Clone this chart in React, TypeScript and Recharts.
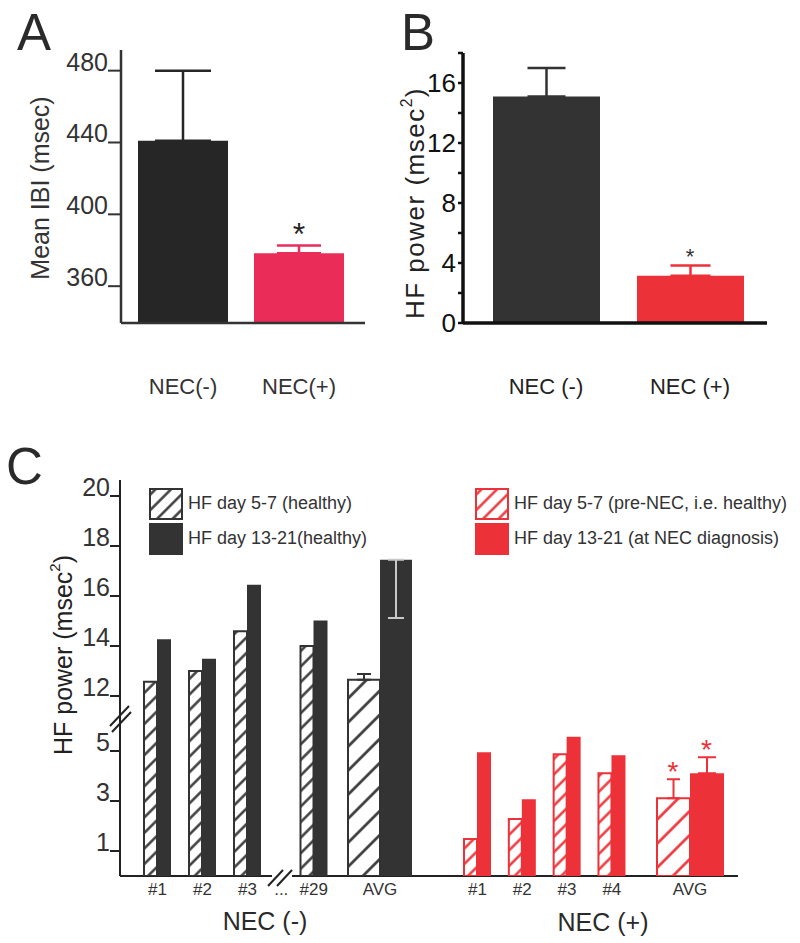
import React from "react";
import { BarChart, Bar, XAxis, YAxis, ErrorBar, ReferenceDot, Legend, Cell } from "recharts";

const FONT = '"Liberation Sans", Arial, Helvetica, sans-serif';
const TEXT = "#333";
const INK_A = "#262626";
const INK = "#333333";
const PINK = "#e92c58";
const RED = "#ec3238";

// Panel A: mean inter-beat interval
const ibiGroups = ["NEC(-)", "NEC(+)"];
const ibiMean = [441, 378.3];
const ibiErr = [39, 4.4];
const ibiTicks = [360, 400, 440, 480];

// Panel B: HF power
const hfGroups = ["NEC (-)", "NEC (+)"];
const hfMean = [15.1, 3.15];
const hfErr = [1.9, 0.68];
const hfTicks = [0, 2, 4, 6, 8, 10, 12, 14, 16, 18];

// Panel C: per-infant HF power, day 5-7 vs day 13-21
const negIds = ["#1", "#2", "#3"];
const negDay57 = [12.57, 13.0, 14.59];
const negDay1321 = [14.27, 13.49, 16.45];
const negLastIds = ["...", "#29"];
const negLastDay57 = [null, 14.0];
const negLastDay1321 = [null, 15.02];
const negAvgDay57 = 12.65;
const negAvgErr57 = 0.23;
const negAvgDay1321 = 17.45;
const negAvgErr1321 = 2.33; // drawn downward only
const posIds = ["#1", "#2", "#3", "#4"];
const posDay57 = [1.48, 2.28, 4.87, 4.11];
const posDay1321 = [4.95, 3.07, 5.57, 4.83];
const posAvgDay57 = 3.11;
const posAvgErr57 = 0.76;
const posAvgDay1321 = 4.11;
const posAvgErr1321 = 0.64;
const cTickValues = [1, 3, 5, 12, 14, 16, 18, 20];
const negLegend = ["HF day 5-7 (healthy)", "HF day 13-21(healthy)"];
const posLegend = ["HF day 5-7 (pre-NEC, i.e. healthy)", "HF day 13-21 (at NEC diagnosis)"];

// broken y axis: everything above the break is shifted down
const BREAK_AT = 6;
const BREAK_SHIFT = 4.8;
const C_MAX = 15.84;
const toAxis = (v: number | null) => (v == null ? null : v > BREAK_AT ? v - BREAK_SHIFT : v);
const cTicks = cTickValues.map((v) => toAxis(v) as number);

const ibiRows = ibiGroups.map((g, i) => ({
  g,
  v: ibiMean[i],
  eInk: i === 0 ? [0, ibiErr[i]] : null,
  eRed: i === 1 ? [0, ibiErr[i]] : null,
}));
const hfRows = hfGroups.map((g, i) => ({
  g,
  v: hfMean[i],
  eInk: i === 0 ? [0, hfErr[i]] : null,
  eRed: i === 1 ? [0, hfErr[i]] : null,
}));
const negRows = negIds.map((id, i) => ({ id, d57: toAxis(negDay57[i]), d1321: toAxis(negDay1321[i]) }));
const negLastRows = negLastIds.map((id, i) => ({ id, d57: toAxis(negLastDay57[i]), d1321: toAxis(negLastDay1321[i]) }));
const negAvgRows = [
  { id: "AVG", d57: toAxis(negAvgDay57), d1321: toAxis(negAvgDay1321), e57: [0, negAvgErr57], e1321: [negAvgErr1321, 0] },
];
const posRows = posIds.map((id, i) => ({ id, d57: toAxis(posDay57[i]), d1321: toAxis(posDay1321[i]) }));
const posAvgRows = [
  { id: "AVG", d57: toAxis(posAvgDay57), d1321: toAxis(posAvgDay1321), e57: [0, posAvgErr57], e1321: [0, posAvgErr1321] },
];

const BaselineTick = ({ x, y, payload, size, color, map }: any) => {
  const label = map ? map(payload.value) : payload.value;
  return (
    <text x={x} y={y} textAnchor="end" fontSize={size} fill={color} fontFamily={FONT}>
      {label}
    </text>
  );
};

const HfTick = ({ x, y, payload }: any) =>
  payload.value % 4 === 0 ? (
    <text x={x} y={y} dy={9} textAnchor="end" fontSize={26} fill="#111" fontFamily={FONT}>
      {payload.value}
    </text>
  ) : null;

const Star = ({ cx, cy, dx = 0, dy = 0, size, color }: any) => (
  <text x={cx + dx} y={cy + dy} textAnchor="middle" fontSize={size} fill={color} fontFamily={FONT}>
    *
  </text>
);

const axisTitle = (x: number, y: number, body: React.ReactNode, size: number, color: string, spacing = 0) => () => (
  <text
    transform={`translate(${x},${y}) rotate(-90)`}
    textAnchor="middle"
    dominantBaseline="central"
    fontSize={size}
    fill={color}
    fontFamily={FONT}
    letterSpacing={spacing}
  >
    {body}
  </text>
);

const msec2 = (
  <>
    HF power (msec
    <tspan baselineShift="super" fontSize="60%">2</tspan>)
  </>
);

const legendOrder = (item: any) => (item.dataKey === "d57" ? 0 : 1);

const LegendBlock = ({ payload, swatches }: any) => (
  <div style={{ fontFamily: FONT, fontSize: 18, color: TEXT }}>
    {(payload || []).map((e: any) => {
      const sw = swatches[e.dataKey];
      return (
        <div key={e.dataKey} style={{ display: "flex", alignItems: "center", height: 35, whiteSpace: "nowrap" }}>
          <svg width={34} height={32} style={{ display: "block" }}>
            <rect x={1} y={1} width={32} height={30} fill={sw.fill} stroke={sw.stroke} strokeWidth={2} />
          </svg>
          <span style={{ marginLeft: 5 }}>{e.value}</span>
        </div>
      );
    })}
  </div>
);

// shared vertical geometry of panel C
const C_TOP = 430;
const C_H = 513;
const C_MARGIN = { top: 50, bottom: 47 };

const CGroup = ({ rows, left, width, sizes, ink, hatch, names, errs, stars, legend }: any) => (
  <div style={{ position: "absolute", left, top: C_TOP }}>
    <BarChart
      width={width}
      height={C_H}
      data={rows}
      margin={{ ...C_MARGIN, left: 0, right: 0 }}
      barGap={0}
      barCategoryGap={0}
    >
      <XAxis
        dataKey="id"
        axisLine={false}
        tickLine={false}
        tickSize={0}
        tickMargin={7}
        interval={0}
        height={20}
        tick={{ fontSize: 17, fill: TEXT, fontFamily: FONT }}
      />
      <YAxis hide type="number" domain={[0, C_MAX]} allowDataOverflow />
      <Bar dataKey="d57" name={names[0]} barSize={sizes[0]} fill={`url(#${hatch})`} stroke={ink} strokeWidth={2} isAnimationActive={false}>
        {errs && <ErrorBar dataKey="e57" width={errs[0].w} stroke={errs[0].c} strokeWidth={2} isAnimationActive={false} />}
      </Bar>
      <Bar dataKey="d1321" name={names[1]} barSize={sizes[1]} fill={ink} isAnimationActive={false}>
        {errs && <ErrorBar dataKey="e1321" width={errs[1].w} stroke={errs[1].c} strokeWidth={2} isAnimationActive={false} />}
      </Bar>
      {stars &&
        stars.map((s: any, i: number) => (
          <ReferenceDot
            key={i}
            x="AVG"
            y={s.y}
            r={1}
            shape={(p: any) => <Star cx={p.cx} cy={p.cy} dx={s.dx} dy={2} size={28} color={ink} />}
          />
        ))}
      {legend && (
        <Legend
          layout="vertical"
          align="center"
          verticalAlign="middle"
          itemSorter={legendOrder}
          wrapperStyle={{ position: "absolute", left: legend.left, top: 56, width: 400 }}
          content={(p: any) => <LegendBlock payload={p.payload} swatches={legend.swatches} />}
        />
      )}
    </BarChart>
  </div>
);

export default function App() {
  return (
    <div style={{ position: "absolute", left: 0, top: 0, width: 800, height: 943, background: "#fff", fontFamily: FONT }}>
      <svg width={0} height={0} style={{ position: "absolute" }}>
        <defs>
          {[
            ["hatchInkS", INK, 11, 2.4],
            ["hatchInkL", INK, 17, 2.6],
            ["hatchRedS", RED, 11, 2.4],
            ["hatchRedL", RED, 17, 2.6],
          ].map(([id, c, s, w]: any) => (
            <pattern key={id} id={id} patternUnits="userSpaceOnUse" width={s} height={s} patternTransform="rotate(45)">
              <rect width={s} height={s} fill="#fff" />
              <line x1={s / 2} y1={0} x2={s / 2} y2={s} stroke={c} strokeWidth={w} />
            </pattern>
          ))}
        </defs>
      </svg>

      {/* A */}
      <div style={{ position: "absolute", left: 0, top: 0 }}>
        <BarChart width={400} height={420} data={ibiRows} margin={{ top: 50, right: 35, left: 61, bottom: 57 }}>
          <XAxis
            dataKey="g"
            height={40}
            padding={{ left: 4, right: 8 }}
            axisLine={{ stroke: TEXT, strokeWidth: 2.5 }}
            tickLine={false}
            tickSize={0}
            tickMargin={55}
            tick={{ fontSize: 22, fill: TEXT, fontFamily: FONT }}
          />
          <YAxis
            type="number"
            width={60}
            domain={[339.5, 491.5]}
            ticks={ibiTicks}
            allowDataOverflow
            axisLine={{ stroke: TEXT, strokeWidth: 2.5 }}
            tickLine={{ stroke: TEXT, strokeWidth: 2 }}
            tickSize={13}
            tickMargin={0}
            tick={<BaselineTick size={25} color={TEXT} />}
            label={{ content: axisTitle(40, 188, "Mean IBI (msec)", 25, TEXT) }}
          />
          <Bar dataKey="v" barSize={90} isAnimationActive={false}>
            {ibiRows.map((r, i) => (
              <Cell key={r.g} fill={i === 0 ? INK_A : PINK} />
            ))}
            <ErrorBar dataKey="eInk" width={28} stroke={INK_A} strokeWidth={2.5} isAnimationActive={false} />
            <ErrorBar dataKey="eRed" width={22} stroke={PINK} strokeWidth={2.5} isAnimationActive={false} />
          </Bar>
          <ReferenceDot
            x={ibiGroups[1]}
            y={ibiMean[1] + ibiErr[1]}
            r={1}
            shape={(p: any) => <Star cx={p.cx} cy={p.cy} dy={0} size={32} color={INK_A} />}
          />
        </BarChart>
      </div>

      {/* B */}
      <div style={{ position: "absolute", left: 380, top: 0 }}>
        <BarChart width={420} height={420} data={hfRows} margin={{ top: 53, right: 33, left: 33, bottom: 57 }}>
          <XAxis
            dataKey="g"
            height={40}
            padding={{ left: 11, right: 5 }}
            axisLine={{ stroke: "#111", strokeWidth: 3.5 }}
            tickLine={false}
            tickSize={0}
            tickMargin={55}
            tick={{ fontSize: 22, fill: "#222", fontFamily: FONT }}
          />
          <YAxis
            type="number"
            width={50}
            domain={[0, 18]}
            ticks={hfTicks}
            allowDataOverflow
            axisLine={{ stroke: "#111", strokeWidth: 3.5 }}
            tickLine={{ stroke: "#111", strokeWidth: 2.5 }}
            tickSize={5}
            tickMargin={2}
            tick={<HfTick />}
            label={{ content: axisTitle(35, 203, msec2, 26, "#222", 1.5) }}
          />
          <Bar dataKey="v" barSize={107} isAnimationActive={false}>
            {hfRows.map((r, i) => (
              <Cell key={r.g} fill={i === 0 ? INK : RED} />
            ))}
            <ErrorBar dataKey="eInk" width={19} stroke={INK} strokeWidth={2.5} isAnimationActive={false} />
            <ErrorBar dataKey="eRed" width={20} stroke={RED} strokeWidth={2.5} isAnimationActive={false} />
          </Bar>
          <ReferenceDot
            x={hfGroups[1]}
            y={hfMean[1] + hfErr[1]}
            r={1}
            shape={(p: any) => <Star cx={p.cx} cy={p.cy} dy={-2} size={22} color={INK} />}
          />
        </BarChart>
      </div>

      {/* C: axes */}
      <div style={{ position: "absolute", left: 0, top: C_TOP }}>
        <BarChart width={800} height={C_H} data={[{ g: "NEC (-)" }, { g: "NEC (+)" }]} margin={{ ...C_MARGIN, left: 60, right: 62 }}>
          <XAxis dataKey="g" height={20} tick={false} tickLine={false} axisLine={{ stroke: "#222", strokeWidth: 2 }} />
          <YAxis
            type="number"
            width={60}
            domain={[0, C_MAX]}
            ticks={cTicks}
            allowDataOverflow
            axisLine={{ stroke: "#222", strokeWidth: 2 }}
            tickLine={{ stroke: "#222", strokeWidth: 2 }}
            tickSize={10}
            tickMargin={0}
            tick={<BaselineTick size={25} color={TEXT} map={(t: number) => cTickValues[cTicks.indexOf(t)]} />}
            label={{ content: axisTitle(63, 225, msec2, 25, "#222") }}
          />
        </BarChart>
      </div>

      <CGroup
        rows={negRows}
        left={134.5}
        width={135}
        sizes={[13, 14]}
        ink={INK}
        hatch="hatchInkS"
        names={negLegend}
        legend={{
          left: 14.5,
          swatches: {
            d57: { fill: "url(#hatchInkS)", stroke: INK },
            d1321: { fill: INK, stroke: INK },
          },
        }}
      />
      <CGroup rows={negLastRows} left={264.75} width={65} sizes={[13, 14]} ink={INK} hatch="hatchInkS" names={negLegend} />
      <CGroup
        rows={negAvgRows}
        left={340}
        width={80}
        sizes={[32, 32]}
        ink={INK}
        hatch="hatchInkL"
        names={negLegend}
        errs={[
          { w: 7, c: INK },
          { w: 8, c: "#c8c8c8" },
        ]}
      />
      <CGroup
        rows={posRows}
        left={455.1}
        width={179.3}
        sizes={[13, 14]}
        ink={RED}
        hatch="hatchRedS"
        names={posLegend}
        legend={{
          left: 19.9,
          swatches: {
            d57: { fill: "url(#hatchRedS)", stroke: RED },
            d1321: { fill: RED, stroke: RED },
          },
        }}
      />
      <CGroup
        rows={posAvgRows}
        left={649.5}
        width={80}
        sizes={[33, 34]}
        ink={RED}
        hatch="hatchRedL"
        names={posLegend}
        errs={[
          { w: 6.5, c: RED },
          { w: 9, c: RED },
        ]}
        stars={[
          { y: toAxis(posAvgDay57 + posAvgErr57), dx: -17 },
          { y: toAxis(posAvgDay1321 + posAvgErr1321), dx: 16.5 },
        ]}
      />

      {/* panel letters, group titles, axis breaks */}
      <svg width={800} height={943} style={{ position: "absolute", left: 0, top: 0, pointerEvents: "none" }}>
        <g fontFamily={FONT} fill="#2a2a2a">
          <text x={17} y={50} fontSize={51}>A</text>
          <text x={401} y={50} fontSize={51}>B</text>
          <text x={6} y={484} fontSize={51}>C</text>
          <text x={265} y={930} fontSize={25} textAnchor="middle">NEC (-)</text>
          <text x={603} y={931} fontSize={25} textAnchor="middle">NEC (+)</text>
        </g>
        <rect x={272} y={872} width={20} height={8} fill="#fff" />
        <g stroke="#222" strokeWidth={2}>
          <line x1={268} y1={886} x2={283} y2={870} />
          <line x1={277} y1={886} x2={292} y2={870} />
          <line x1={110} y1={726} x2={129} y2={706} />
          <line x1={112} y1={732} x2={131} y2={712} />
        </g>
      </svg>
    </div>
  );
}
